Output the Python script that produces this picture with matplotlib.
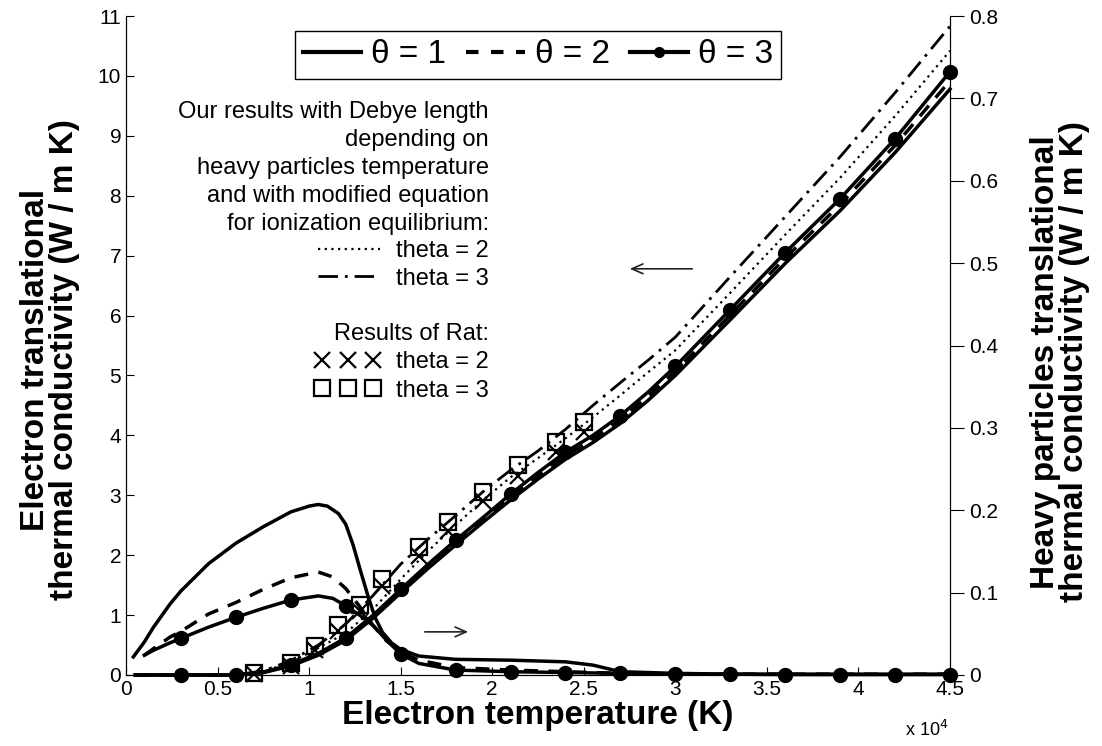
import numpy as np
import matplotlib
matplotlib.use("Agg")
import matplotlib.pyplot as plt
from matplotlib.lines import Line2D

plt.rcParams['font.family'] = ['Liberation Sans', 'DejaVu Sans']

# electron translational conductivity (left axis, W/m K)
T_el = [500, 3000, 6000, 7500, 9000, 10500, 12000, 13500, 15000, 16500, 18000, 19500,
        21000, 22500, 24000, 25500, 27000, 28500, 30000, 33000, 36000, 39000, 42000, 45000]
el_theta1 = [0, 0, 0, 0.04, 0.15, 0.33, 0.58, 0.95, 1.37, 1.78, 2.17, 2.55,
             2.92, 3.27, 3.60, 3.88, 4.20, 4.58, 5.00, 5.93, 6.87, 7.75, 8.72, 9.78]
el_theta2 = [0, 0, 0, 0.045, 0.16, 0.34, 0.60, 0.97, 1.40, 1.81, 2.21, 2.59,
             2.97, 3.32, 3.66, 3.94, 4.26, 4.65, 5.07, 6.01, 6.96, 7.85, 8.84, 9.92]
el_theta3 = [0, 0, 0, 0.05, 0.17, 0.36, 0.62, 1.00, 1.43, 1.85, 2.25, 2.63,
             3.02, 3.38, 3.72, 4.00, 4.33, 4.72, 5.15, 6.10, 7.05, 7.95, 8.95, 10.07]
our_theta2 = [0, 0, 0, 0.06, 0.21, 0.45, 0.70, 1.10, 1.60, 2.07, 2.50, 2.92,
              3.30, 3.62, 3.95, 4.30, 4.67, 5.05, 5.42, 6.38, 7.35, 8.30, 9.33, 10.42]
our_theta3 = [0, 0, 0, 0.07, 0.24, 0.50, 0.85, 1.33, 1.85, 2.27, 2.66, 3.06,
              3.42, 3.74, 4.10, 4.50, 4.88, 5.25, 5.64, 6.65, 7.65, 8.65, 9.72, 10.83]

# Rat results
T_rat = [7000, 9000, 10300, 11600, 12800, 14000, 16000, 17600, 19500, 21400, 23500, 25000]
rat_theta2 = [0.02, 0.15, 0.42, 0.74, 1.07, 1.48, 1.98, 2.40, 2.90, 3.32, 3.72, 4.05]
rat_theta3 = [0.03, 0.20, 0.49, 0.83, 1.17, 1.61, 2.14, 2.56, 3.06, 3.50, 3.89, 4.22]

# heavy particles translational conductivity (right axis, W/m K)
T_hp1 = [400, 1000, 1500, 2400, 3000, 4500, 6000, 7500, 9000, 10000, 10500, 11000, 11600,
         12000, 12400, 12800, 13200, 13600, 14000, 14500, 15000, 16000, 18000, 21000,
         24000, 25500, 27000, 30000, 33000, 36000, 39000, 42000, 45000]
hp_theta1 = [0.022, 0.040, 0.058, 0.086, 0.102, 0.135, 0.160, 0.180, 0.198, 0.205, 0.207,
             0.205, 0.196, 0.183, 0.158, 0.127, 0.097, 0.070, 0.052, 0.039, 0.031, 0.023,
             0.019, 0.018, 0.016, 0.012, 0.004, 0.002, 0.001, 0.001, 0.001, 0.001, 0.001]
T_hp = [1000, 1500, 2400, 3000, 4500, 6000, 7500, 9000, 10500, 11300, 12000, 12800, 13500,
        14200, 15000, 16000, 18000, 21000, 24000, 27000, 30000, 33000, 36000, 39000,
        42000, 45000]
hp_theta2 = [0.024, 0.032, 0.046, 0.053, 0.074, 0.088, 0.104, 0.118, 0.125, 0.119, 0.105,
             0.082, 0.060, 0.042, 0.028, 0.018, 0.009, 0.006, 0.004, 0.002, 0.001, 0.001,
             0.001, 0.001, 0.001, 0.001]
hp_theta3 = [0.024, 0.030, 0.039, 0.0445, 0.058, 0.070, 0.081, 0.091, 0.096, 0.093, 0.084,
             0.072, 0.060, 0.043, 0.0255, 0.014, 0.006, 0.004, 0.003, 0.002, 0.001, 0.001,
             0.0005, 0.0005, 0.0005, 0.0005]

x_ticks = [0, 5000, 10000, 15000, 20000, 25000, 30000, 35000, 40000, 45000]
x_ticklabels = ['0', '0.5', '1', '1.5', '2', '2.5', '3', '3.5', '4', '4.5']

W, H = 1102, 746
fig = plt.figure(figsize=(W / 100, H / 100), dpi=100)
ax = fig.add_axes([126 / W, 71 / H, 824 / W, 659 / H])
ax2 = ax.twinx()


def every3000(T):
    return [i for i, t in enumerate(T) if t % 3000 == 0]


dash2 = (0, (4, 3))
dashdot = (0, (7, 2.5, 1, 2.5))
lw = 2.5

# electron curves
ax.plot(T_el, our_theta3, color='black', lw=2.0, linestyle=dashdot)
ax.plot(T_el, our_theta2, color='black', lw=1.6, linestyle=(0, (1, 2)))
ax.plot(T_el, el_theta1, color='black', lw=lw)
ax.plot(T_el, el_theta2, color='black', lw=lw, linestyle=dash2)
ax.plot(T_el, el_theta3, color='black', lw=lw, marker='o', markersize=10,
        markevery=every3000(T_el))
ax.plot(T_rat, rat_theta2, linestyle='none', marker='x', markersize=11, mew=1.6,
        color='black')
ax.plot(T_rat, rat_theta3, linestyle='none', marker='s', markersize=12, mew=1.6,
        mfc='none', mec='black')

# heavy particles curves
ax2.plot(T_hp1, hp_theta1, color='black', lw=lw)
ax2.plot(T_hp, hp_theta2, color='black', lw=lw, linestyle=dash2)
ax2.plot(T_hp, hp_theta3, color='black', lw=lw, marker='o', markersize=10,
         markevery=every3000(T_hp))

ax.set_xlim(0, 45000)
ax.set_ylim(0, 11)
ax2.set_ylim(0, 0.8)
ax.set_xticks(x_ticks)
ax.set_xticklabels(x_ticklabels)
ax.set_yticks(range(0, 12))
ax2.set_yticks(np.arange(0, 0.81, 0.1))
ax2.set_yticklabels(['0', '0.1', '0.2', '0.3', '0.4', '0.5', '0.6', '0.7', '0.8'])

for a in (ax, ax2):
    a.spines['top'].set_visible(False)
ax.tick_params(direction='in', length=6, labelsize=15, top=False)
ax2.tick_params(direction='out', length=10, labelsize=15)
for line in ax.lines + ax2.lines:
    line.set_clip_on(False)

ax.set_xlabel('Electron temperature (K)', fontsize=24, fontweight='bold', labelpad=1)
fig.text(50 / W, 1 - 360 / H, 'Electron translational\nthermal conductivity (W / m K)',
         rotation=90, ha='center', va='center', fontsize=24, fontweight='bold',
         linespacing=0.95)
fig.text(1060 / W, 1 - 362 / H, 'Heavy particles translational\nthermal conductivity (W / m K)',
         rotation=90, ha='center', va='center', fontsize=24, fontweight='bold',
         linespacing=0.95)
fig.text(905 / W, 1 - 730 / H, 'x 10$^{4}$', fontsize=13, ha='left', va='center')

# theta legend
h1 = Line2D([], [], color='black', lw=3)
h2 = Line2D([], [], color='black', lw=3, linestyle=(0, (3, 3)))
h3 = Line2D([], [], color='black', lw=3, marker='o', markersize=7)
leg1 = ax.legend([h1, h2, h3], ['\u03b8 = 1', '\u03b8 = 2', '\u03b8 = 3'], ncol=3,
                 loc='center', bbox_to_anchor=(0.5, 0.941), fontsize=24,
                 handlelength=1.75, handletextpad=0.3, columnspacing=0.6,
                 fancybox=False, edgecolor='black', borderpad=0.25, framealpha=1)
leg1.get_frame().set_linewidth(1.0)
ax.add_artist(leg1)

# our results legend
o2 = Line2D([], [], color='black', lw=1.6, linestyle=(0, (1, 2)))
o3 = Line2D([], [], color='black', lw=2.0, linestyle=dashdot)
leg2 = ax.legend([o2, o3], ['theta = 2', 'theta = 3'], loc='upper right',
                 bbox_to_anchor=(493 / W, 1 - 97 / H), bbox_transform=fig.transFigure,
                 title='Our results with Debye length\ndepending on\nheavy particles temperature\n'
                       'and with modified equation\nfor ionization equilibrium:',
                 title_fontsize=17, fontsize=17, alignment='right', frameon=False,
                 handlelength=2.6, handletextpad=0.7, labelspacing=0.23,
                 borderpad=0.17, borderaxespad=0)
leg2.get_title().set_multialignment('right')
leg2.get_title().set_linespacing(1.35)
ax.add_artist(leg2)

# Rat legend
r2 = Line2D([], [], linestyle='none', color='black', marker='x', markersize=11, mew=1.6)
r3 = Line2D([], [], linestyle='none', color='black', marker='s', markersize=12, mew=1.6,
            mfc='none')
leg3 = ax.legend([r2, r3], ['theta = 2', 'theta = 3'], loc='upper right',
                 bbox_to_anchor=(495 / W, 1 - 317 / H), bbox_transform=fig.transFigure,
                 title='Results of Rat:', title_fontsize=17, fontsize=17,
                 alignment='right', frameon=False, numpoints=3,
                 handlelength=2.75, handletextpad=0.68, labelspacing=0.27,
                 borderpad=0.25, borderaxespad=0)

# arrows indicating which axis
ax.annotate('', xy=(27360, 6.78), xytext=(31075, 6.78),
            arrowprops=dict(arrowstyle='->,head_length=0.8,head_width=0.35', lw=1.2,
                            color='#222222'))
ax.annotate('', xy=(18840, 0.72), xytext=(16165, 0.72),
            arrowprops=dict(arrowstyle='->,head_length=0.8,head_width=0.35', lw=1.2,
                            color='#222222'))

fig.savefig('out.png', dpi=100)
